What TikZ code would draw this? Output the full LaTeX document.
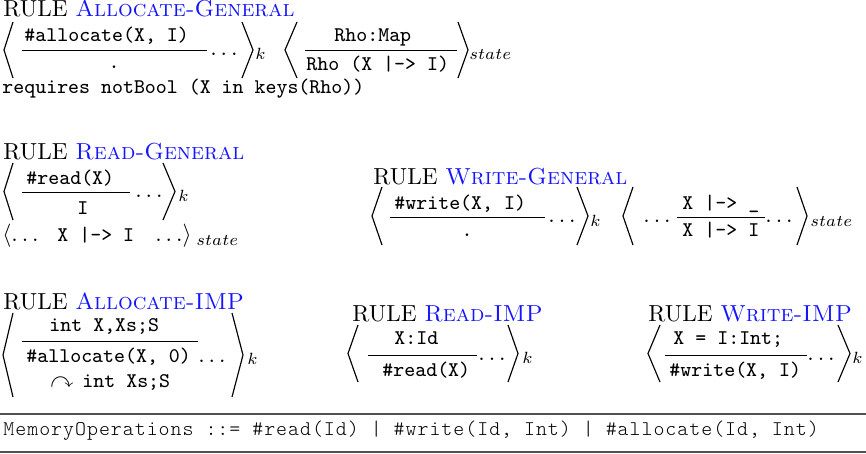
\documentclass[tikz,border=0pt]{standalone}
\usepackage{amssymb}
\usepackage{fontspec}
\newfontfamily\lstfont[LetterSpace=4.7]{lmmonolt10-regular.otf}
\definecolor{rulename}{RGB}{20,20,255}
\definecolor{rulegray}{RGB}{80,80,80}
\newcommand\myLB[4]{\draw[brk] (#2,#3) -- (#1,{(#3+#4)/2}) -- (#2,#4);}
\newcommand\myRB[4]{\draw[brk] (#2,#3) -- (#1,{(#3+#4)/2}) -- (#2,#4);}
\begin{document}
\begin{tikzpicture}[x=0.431pt,y=-0.431pt,
  rm/.style={anchor=base west,inner sep=0pt,font=\normalsize},
  tt/.style={anchor=base west,inner sep=0pt,font=\small\ttfamily},
  sub/.style={anchor=base west,inner sep=0pt,font=\scriptsize},
  lst/.style={anchor=base west,inner sep=0pt,font=\fontsize{9}{11}\lstfont},
  brk/.style={line width=0.5pt},
  fracl/.style={line width=0.4pt},
  sep/.style={line width=0.55pt,draw=rulegray}]
\useasboundingbox (0,0) rectangle (866,454);

% Rule 1: Allocate-General
\node[rm] (t1) at (3,17) {RULE \textcolor{rulename}{\textsc{Allocate-General}}};
\myLB{4}{13}{22}{78}
\node[tt] (n1) at (24,42) {\#allocate(X, I)};
\draw[fracl] (22,50) -- (207,50);
\node[tt,anchor=base] (d1) at (114,69) {.};
\node[rm] (e1) at (210,56) {$\ldots$};
\myRB{253}{242}{22}{78}
\node[sub] (k1) at (255,60) {$k$};
\myLB{285}{297}{22}{78}
\node[tt] (n1b) at (334,42) {Rho:Map};
\draw[fracl] (305,50) -- (457,50);
\node[tt] (d1b) at (306,71) {Rho (X |-> I)};
\myRB{468}{458}{22}{78}
\node[sub] (s1) at (469,60) {$state$};
\node[tt] (req) at (2,94) {requires notBool (X in keys(Rho))};

% Rule 2: Read-General
\node[rm] (t2) at (3,160) {RULE \textcolor{rulename}{\textsc{Read-General}}};
\myLB{4}{13}{163}{220}
\node[tt] (n2) at (26,185) {\#read(X)};
\draw[fracl] (22,192) -- (130,192);
\node[tt] (d2) at (77,215) {I};
\node[rm] (e2) at (135,198) {$\ldots$};
\myRB{175}{163}{163}{220}
\node[sub] (k2) at (178,202) {$k$};
\node[rm] (l2) at (2,242) {$\langle\ldots$};
\node[tt] (m2) at (57,242) {X |-> I};
\node[rm] (r2) at (155,242) {$\ldots\rangle$};
\node[sub] (s2) at (196,246) {$state$};

% Rule 3: Write-General
\node[rm] (t3) at (373,185) {RULE \textcolor{rulename}{\textsc{Write-General}}};
\myLB{372}{382}{187}{245}
\node[tt] (n3) at (394,210) {\#write(X, I)};
\draw[fracl] (390,217) -- (545,217);
\node[tt,anchor=base] (d3) at (467,237) {.};
\node[rm] (e3) at (548,223) {$\ldots$};
\myRB{588}{577}{187}{245}
\node[sub] (k3) at (590,227) {$k$};
\myLB{623}{633}{187}{245}
\node[rm] (e3b) at (643,223) {$\ldots$};
\node[tt] (n3b) at (682,210) {X |-> \_};
\draw[fracl] (677,217) -- (765,217);
\node[tt] (d3b) at (682,237) {X |-> I};
\node[rm] (e3c) at (765,223) {$\ldots$};
\myRB{807}{797}{187}{245}
\node[sub] (s3) at (810,227) {$state$};

% Rule 4: Allocate-IMP
\node[rm] (t4) at (3,310) {RULE \textcolor{rulename}{\textsc{Allocate-IMP}}};
\myLB{3}{13}{313}{397}
\node[tt] (n4) at (49,332) {int X,Xs;S};
\draw[fracl] (22,341) -- (198,341);
\node[tt] (d4) at (26,363) {\#allocate(X, 0)};
\node[rm] (e4) at (198,363) {$\ldots$};
\node[rm] (a4) at (50,388) {$\curvearrowright$};
\node[tt] (c4) at (82,388) {int Xs;S};
\myRB{243}{232}{313}{397}
\node[sub] (k4) at (247,365) {$k$};

% Rule 5: Read-IMP
\node[rm] (t5) at (352,322) {RULE \textcolor{rulename}{\textsc{Read-IMP}}};
\myLB{348}{358}{325}{382}
\node[tt] (n5) at (394,345) {X:Id};
\draw[fracl] (368,355) -- (477,355);
\node[tt] (d5) at (382,377) {\#read(X)};
\node[rm] (e5) at (478,361) {$\ldots$};
\myRB{518}{508}{325}{382}
\node[sub] (k5) at (522,364) {$k$};

% Rule 6: Write-IMP
\node[rm] (t6) at (648,322) {RULE \textcolor{rulename}{\textsc{Write-IMP}}};
\myLB{648}{660}{325}{382}
\node[tt] (n6) at (673,345) {X = I:Int;};
\draw[fracl] (665,355) -- (807,355);
\node[tt] (d6) at (669,377) {\#write(X, I)};
\node[rm] (e6) at (807,361) {$\ldots$};
\myRB{850}{838}{325}{382}
\node[sub] (k6) at (852,364) {$k$};

% Syntax line
\draw[sep] (0,414) -- (866,414);
\draw[sep] (0,452) -- (866,452);
\node[lst] (syn) at (3,436) {MemoryOperations ::= \#read(Id) | \#write(Id, Int) | \#allocate(Id, Int)};
\end{tikzpicture}
\end{document}
